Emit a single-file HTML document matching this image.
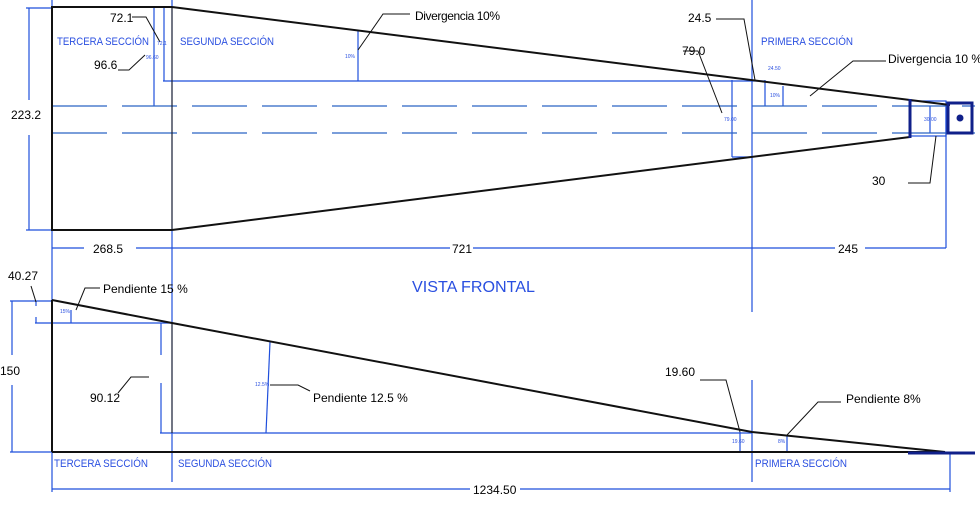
<!DOCTYPE html>
<html><head><meta charset="utf-8"><style>
html,body{margin:0;padding:0;background:#fff;}
svg{display:block;}
.t{font-family:"Liberation Sans",sans-serif;font-size:12px;fill:#000;}
.b{font-family:"Liberation Sans",sans-serif;font-size:11px;fill:#2a4fe0;}
</style></head><body>
<svg width="980" height="505" viewBox="0 0 980 505" xmlns="http://www.w3.org/2000/svg">
<g stroke="#1f4fdc" stroke-width="1.2" fill="none">
<line x1="52" y1="0" x2="52" y2="492"/>
<line x1="172" y1="0" x2="172" y2="482"/>
<line x1="752" y1="0" x2="752" y2="312"/>
<line x1="752" y1="380" x2="752" y2="482"/>
<line x1="946" y1="105" x2="946" y2="248"/>
<line x1="29" y1="8" x2="29" y2="100"/><line x1="29" y1="135" x2="29" y2="230"/>
<line x1="26" y1="8" x2="52" y2="8"/><line x1="26" y1="230" x2="52" y2="230"/>
<line x1="52" y1="248" x2="84" y2="248"/><line x1="136" y1="248" x2="450" y2="248"/><line x1="473" y1="248" x2="835" y2="248"/><line x1="865" y1="248" x2="946" y2="248"/>
<line x1="154" y1="7" x2="154" y2="106"/>
<line x1="164" y1="7" x2="164" y2="81"/>
<line x1="163" y1="81" x2="765" y2="81"/>
<line x1="358" y1="30" x2="358" y2="81"/>
<line x1="732" y1="80" x2="732" y2="157"/>
<line x1="732" y1="157" x2="752" y2="157"/>
<line x1="765" y1="80" x2="765" y2="106"/>
<line x1="783" y1="86" x2="783" y2="106"/>
<rect x="910" y="101" width="36" height="35"/>
<line x1="930" y1="106" x2="930" y2="133"/>
<line x1="52" y1="106" x2="975" y2="106" stroke-dasharray="55,15" stroke="#2b63c4"/>
<line x1="52" y1="133" x2="975" y2="133" stroke-dasharray="55,15" stroke="#2b63c4"/>
<line x1="12" y1="301" x2="12" y2="355"/><line x1="12" y1="385" x2="12" y2="452"/>
<line x1="10" y1="301" x2="52" y2="301"/><line x1="10" y1="452" x2="52" y2="452"/>
<line x1="35" y1="323" x2="172" y2="323"/>
<line x1="36" y1="301" x2="36" y2="306"/><line x1="36" y1="317" x2="36" y2="323"/>
<line x1="71" y1="310" x2="71" y2="323"/>
<line x1="160" y1="433" x2="752" y2="433"/>
<line x1="161" y1="323" x2="161" y2="355"/><line x1="161" y1="383" x2="161" y2="433"/>
<line x1="270" y1="342" x2="266" y2="433"/>
<line x1="740" y1="432" x2="740" y2="452"/>
<line x1="787" y1="436" x2="787" y2="452"/>
<line x1="52" y1="489" x2="470" y2="489"/><line x1="520" y1="489" x2="950" y2="489"/>
<line x1="950" y1="452" x2="950" y2="492"/>
<line x1="830" y1="452" x2="945" y2="452"/>
</g>
<g stroke="#111" stroke-width="2" fill="none">
<polyline points="172,7 52,7 52,230 172,230"/>
<line x1="172" y1="7" x2="910" y2="100"/>
<line x1="910" y1="100" x2="950" y2="105"/>
<line x1="172" y1="230" x2="910" y2="137"/>
<line x1="172" y1="7" x2="172" y2="230" stroke-width="1"/>
<polyline points="52,300 172,323 752,432 945,452"/>
<line x1="52" y1="300" x2="52" y2="452"/>
<line x1="52" y1="452" x2="945" y2="452"/>
<line x1="172" y1="323" x2="172" y2="433" stroke-width="1"/>
</g>
<g stroke="#10208a" stroke-width="3" fill="none">
<line x1="910" y1="99" x2="910" y2="138"/>
<rect x="948" y="103" width="24" height="30"/>
<line x1="908" y1="453" x2="975" y2="453"/>
</g>
<circle cx="960" cy="118" r="3.5" fill="#10208a"/>
<g stroke="#111" stroke-width="1" fill="none">
<polyline points="132,17 146,17 160,42"/>
<polyline points="118,70 129,70 145,55"/>
<polyline points="410,14 383,14 358,50"/>
<polyline points="716,19 744,19 755,80"/>
<polyline points="683,51 698,51 722,113"/>
<polyline points="886,61 853,61 810,96"/>
<polyline points="908,183 930,183 936,136"/>
<polyline points="31,286 36,302"/>
<polyline points="100,288 85,288 76,310"/>
<polyline points="118,393 131,377 149,377"/>
<polyline points="310,391 298,385 270,385"/>
<polyline points="700,380 726,380 740,432"/>
<polyline points="841,402 818,402 787,435"/>
</g>
<text class="t" x="110" y="22">72.1</text>
<text class="t" x="94" y="69">96.6</text>
<text class="t" x="11" y="119">223.2</text>
<text class="t" x="415" y="20" textLength="85">Divergencia 10%</text>
<text class="t" x="682" y="55">79.0</text>
<text class="t" x="688" y="22">24.5</text>
<text class="t" x="888" y="63">Divergencia 10 %</text>
<text class="t" x="872" y="185">30</text>
<text class="t" x="93" y="253">268.5</text>
<text class="t" x="452" y="253">721</text>
<text class="t" x="838" y="253">245</text>
<text class="t" x="8" y="280">40.27</text>
<text class="t" x="103" y="293">Pendiente 15 %</text>
<text class="t" x="0" y="375">150</text>
<text class="t" x="90" y="402">90.12</text>
<text class="t" x="313" y="402">Pendiente 12.5 %</text>
<text class="t" x="665" y="376">19.60</text>
<text class="t" x="846" y="403">Pendiente 8%</text>
<text class="t" x="473" y="494">1234.50</text>
<text class="b" x="57" y="45" textLength="92" lengthAdjust="spacingAndGlyphs">TERCERA SECCIÓN</text>
<text class="b" x="180" y="45" textLength="94" lengthAdjust="spacingAndGlyphs">SEGUNDA SECCIÓN</text>
<text class="b" x="761" y="45" textLength="92" lengthAdjust="spacingAndGlyphs">PRIMERA SECCIÓN</text>
<text class="b" x="54" y="467" textLength="94" lengthAdjust="spacingAndGlyphs">TERCERA SECCIÓN</text>
<text class="b" x="178" y="467" textLength="94" lengthAdjust="spacingAndGlyphs">SEGUNDA SECCIÓN</text>
<text class="b" x="755" y="467" textLength="92" lengthAdjust="spacingAndGlyphs">PRIMERA SECCIÓN</text>
<text class="b" x="412" y="292" style="font-size:16px" textLength="123" lengthAdjust="spacingAndGlyphs">VISTA FRONTAL</text>
<g font-family="Liberation Sans,sans-serif" font-size="5" fill="#2a4fe0">
<text x="157" y="45">72.1</text><text x="146" y="59">96.60</text>
<text x="724" y="121">79.00</text><text x="768" y="70">24.50</text>
<text x="924" y="121">30.00</text><text x="732" y="443">19.60</text>
<text x="345" y="58">10%</text><text x="770" y="97">10%</text>
<text x="60" y="313">15%</text><text x="255" y="386">12.5%</text><text x="778" y="443">8%</text>
</g>
</svg>
</body></html>
